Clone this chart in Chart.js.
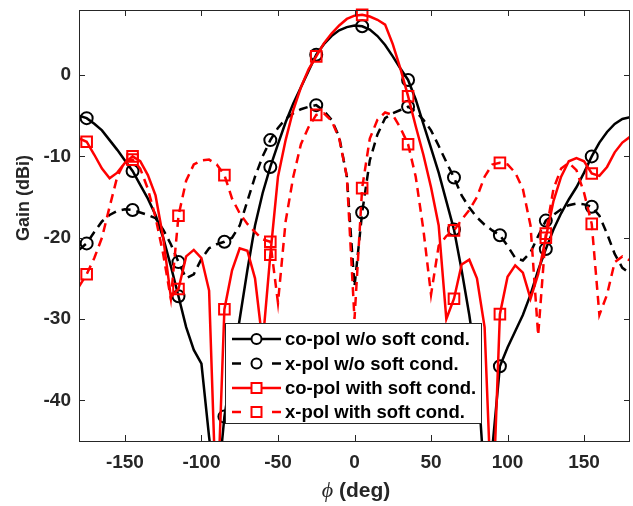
<!DOCTYPE html>
<html lang="en">
<head>
<meta charset="UTF-8">
<title>Gain vs phi</title>
<script src="https://cdn.jsdelivr.net/npm/chart.js"></script>
<style>
  body { margin: 0; background: #fff; }
</style>
</head>
<body>
<canvas id="gainChart" width="633" height="506"></canvas>
<script>
// angle samples (deg)
const angles = [];
for (let a = -180; a <= 180; a += 5) angles.push(a);

// co-pol w/o soft cond.
const coPolWo = [
  -5.0, -5.3, -6.0, -6.8, -8.0, -9.2, -10.5, -11.8, -13.5, -15.2,
  -17.2, -20.0, -23.5, -27.2, -31.0, -33.8, -35.5, -44.5, -52.0, -42.0,
  -36.0, -30.0, -24.0, -18.5, -14.5, -11.3, -8.5, -5.8, -3.5, -1.5,
  0.5, 2.5, 3.8, 4.8, 5.5, 5.9, 6.1, 6.0, 5.6, 4.8,
  3.7, 2.3, 0.8, -0.6, -3.0, -6.0, -9.0, -12.0, -15.5, -19.0,
  -24.0, -29.5, -36.0, -50.0, -46.0, -35.8, -33.5, -31.5, -29.5, -27.0,
  -24.0, -21.4, -19.0, -17.0, -15.3, -13.8, -12.0, -10.0, -8.3, -7.0,
  -6.0, -5.4, -5.2
];

// x-pol w/o soft cond.
const xPolWo = [
  -21.5, -20.7, -19.3, -18.0, -17.2, -16.7, -16.5, -16.6, -16.9, -17.2,
  -17.6, -19.0, -20.8, -23.0, -25.0, -24.5, -22.6, -21.3, -20.8, -20.5,
  -20.0, -18.5, -15.5, -12.5, -10.0, -8.0, -6.5, -5.4, -4.7, -4.2,
  -3.9, -3.7, -4.4, -5.5, -7.6, -12.5, -26.0, -16.9, -10.5, -7.3,
  -5.3, -4.7, -4.3, -3.9, -4.5, -5.5, -6.8, -8.7, -10.7, -12.6,
  -14.8, -16.3, -17.5, -18.4, -19.1, -19.7, -21.0, -22.5, -22.8, -21.8,
  -19.8, -17.9, -17.2, -16.5, -16.0, -15.8, -15.9, -16.2, -17.3, -19.5,
  -22.0, -23.7, -24.4
];

// co-pol with soft cond.
const coPolWith = [
  -7.8, -8.2, -9.8, -11.5, -12.7, -12.0, -10.8, -10.0, -10.6, -12.3,
  -14.8, -20.0, -27.3, -26.3, -22.3, -21.5, -22.5, -26.5, -55.0, -28.8,
  -24.0, -21.3, -21.6, -25.0, -33.0, -22.1, -12.5, -8.0, -4.3, -1.5,
  0.7, 2.3, 3.9, 5.1, 6.1, 6.9, 7.3, 7.4, 7.2, 6.8,
  6.2, 3.8, 0.8, -2.6, -6.3, -9.8, -13.8, -18.5, -30.0, -27.5,
  -23.3, -22.7, -25.0, -31.0, -55.0, -29.4, -24.8, -23.4, -24.3, -27.5,
  -24.5, -20.0, -15.5, -12.5, -10.6, -10.2, -10.6, -12.1, -12.4, -11.3,
  -9.5, -8.3, -7.6
];

// x-pol with soft cond.
const xPolWith = [
  -26.0, -24.5, -22.5, -20.0, -16.2, -12.5, -10.6, -10.4, -11.5, -14.0,
  -17.5, -22.0, -27.5, -17.3, -13.0, -11.0, -10.5, -10.4, -11.0, -12.3,
  -15.2, -17.0, -18.3, -19.3, -20.2, -20.5, -28.0, -18.0, -12.5, -8.5,
  -6.4, -4.9, -4.7, -5.6, -7.8, -12.5, -30.0, -13.9, -7.8, -5.5,
  -4.6, -4.9, -6.5, -8.5, -12.5, -19.0, -27.0, -21.0, -19.8, -19.1,
  -17.8, -16.6, -15.0, -12.5, -11.0, -10.8, -11.0, -12.0, -14.0, -18.5,
  -32.0, -19.5, -14.0, -11.5, -10.8, -11.7, -14.5, -18.3, -29.5, -27.0,
  -23.0, -22.3, -22.8
];

const seriesNames = ['co-pol w/o soft cond.', 'x-pol w/o soft cond.', 'co-pol with soft cond.', 'x-pol with soft cond.'];
const xTicks = [-150, -100, -50, 0, 50, 100, 150];
const yTicks = [-40, -30, -20, -10, 0];

const axisColor = '#262626';
const fontFamily = '"Liberation Sans", Arial, sans-serif';

// marker every 30 deg starting at -175
function isMarker(ctx) {
  const a = angles[ctx.dataIndex];
  return (a + 175) % 30 === 0;
}

function makeSet(i, values, color, dashed, style) {
  return {
    label: seriesNames[i],
    data: angles.map((a, k) => ({ x: a, y: values[k] })),
    borderColor: color,
    borderWidth: 2.5,
    borderDash: dashed ? [9, 6] : [],
    pointStyle: style,
    pointRadius: ctx => isMarker(ctx) ? (style === 'rect' ? 7.5 : 6) : 0,
    pointBorderWidth: 2,
    pointBorderColor: color,
    pointBackgroundColor: 'rgba(0,0,0,0)',
    pointHoverRadius: 0,
    tension: 0,
    fill: false,
    order: 4 - i,
    clip: { left: 0, top: 8, right: 0, bottom: 0 }
  };
}

const datasets = [
  makeSet(0, coPolWo, '#000000', false, 'circle'),
  makeSet(1, xPolWo, '#000000', true, 'circle'),
  makeSet(2, coPolWith, '#ff0000', false, 'rect'),
  makeSet(3, xPolWith, '#ff0000', true, 'rect')
];

// box + inward ticks on all four sides, axis titles, legend
const framePlugin = {
  id: 'frame',
  afterDatasetsDraw(chart) {
    const { ctx, chartArea: ca, scales } = chart;
    ctx.save();
    ctx.strokeStyle = axisColor;
    ctx.lineWidth = 1;
    ctx.setLineDash([]);
    ctx.strokeRect(ca.left + 0.5, ca.top + 0.5, ca.right - ca.left - 1, ca.bottom - ca.top);
    ctx.beginPath();
    xTicks.forEach(v => {
      const px = Math.round(scales.x.getPixelForValue(v)) + 0.5;
      ctx.moveTo(px, ca.bottom); ctx.lineTo(px, ca.bottom - 6);
      ctx.moveTo(px, ca.top); ctx.lineTo(px, ca.top + 6);
    });
    yTicks.forEach(v => {
      const py = Math.round(scales.y.getPixelForValue(v)) + 0.5;
      ctx.moveTo(ca.left, py); ctx.lineTo(ca.left + 6, py);
      ctx.moveTo(ca.right, py); ctx.lineTo(ca.right - 6, py);
    });
    ctx.stroke();
    ctx.restore();
  },
  afterDraw(chart) {
    const { ctx } = chart;
    ctx.save();
    ctx.fillStyle = axisColor;
    ctx.textBaseline = 'middle';

    // y title
    ctx.save();
    ctx.translate(24, 198);
    ctx.rotate(-Math.PI / 2);
    ctx.textAlign = 'center';
    ctx.font = 'bold 18px ' + fontFamily;
    ctx.fillText('Gain (dBi)', 0, 0);
    ctx.restore();

    // x title: italic phi + bold text
    const phiFont = 'italic 22px "Liberation Serif", serif';
    const restFont = 'bold 21px ' + fontFamily;
    ctx.font = phiFont;
    const wPhi = ctx.measureText('ϕ').width;
    ctx.font = restFont;
    const wRest = ctx.measureText(' (deg)').width;
    const x0 = 356 - (wPhi + wRest) / 2;
    ctx.textAlign = 'left';
    ctx.font = phiFont;
    ctx.fillText('ϕ', x0, 491);
    ctx.font = restFont;
    ctx.fillText(' (deg)', x0 + wPhi, 491);

    // legend box
    const bx = 225.5, by = 323.5, bw = 256, bh = 100;
    ctx.fillStyle = '#ffffff';
    ctx.fillRect(bx, by, bw, bh);
    ctx.strokeStyle = axisColor;
    ctx.lineWidth = 1;
    ctx.strokeRect(bx, by, bw, bh);

    const rows = [339, 363.5, 388, 412];
    datasets.forEach((ds, i) => {
      const y = rows[i];
      ctx.strokeStyle = ds.borderColor;
      ctx.lineWidth = 2.5;
      ctx.beginPath();
      if (ds.borderDash.length) {
        ctx.moveTo(232, y); ctx.lineTo(241, y);
        ctx.moveTo(272, y); ctx.lineTo(281, y);
      } else {
        ctx.moveTo(232, y); ctx.lineTo(281, y);
      }
      ctx.stroke();
      ctx.lineWidth = 2;
      ctx.beginPath();
      ctx.fillStyle = '#ffffff';
      if (ds.pointStyle === 'circle') {
        ctx.arc(256.5, y, 5, 0, Math.PI * 2);
      } else {
        ctx.rect(251.5, y - 5, 10, 10);
      }
      ctx.fill();
      ctx.stroke();
      ctx.fillStyle = '#000000';
      ctx.font = 'bold 18.5px ' + fontFamily;
      ctx.textAlign = 'left';
      ctx.fillText(ds.label, 285, y + 1);
    });
    ctx.restore();
  }
};

const ctx = document.getElementById('gainChart').getContext('2d');
new Chart(ctx, {
  type: 'line',
  data: { datasets },
  options: {
    responsive: false,
    devicePixelRatio: 1,
    animation: false,
    layout: { padding: { left: 0, top: 10, right: 3, bottom: 0 } },
    scales: {
      x: {
        type: 'linear',
        min: -180,
        max: 180,
        afterBuildTicks: s => { s.ticks = xTicks.map(v => ({ value: v })); },
        afterFit: s => { s.height = 65; s.paddingLeft = 0; s.paddingRight = 0; },
        grid: { display: false, drawTicks: false },
        border: { display: false },
        ticks: { color: axisColor, font: { family: fontFamily, size: 19, weight: 'bold' }, padding: 10, maxRotation: 0 }
      },
      y: {
        type: 'linear',
        min: -45,
        max: 8,
        afterBuildTicks: s => { s.ticks = yTicks.map(v => ({ value: v })); },
        afterFit: s => { s.width = 79; s.paddingTop = 0; s.paddingBottom = 0; },
        grid: { display: false, drawTicks: false },
        border: { display: false },
        ticks: { color: axisColor, font: { family: fontFamily, size: 19, weight: 'bold' }, padding: 8 }
      }
    },
    plugins: {
      legend: { display: false },
      tooltip: { enabled: false }
    }
  },
  plugins: [framePlugin]
});
</script>
</body>
</html>
